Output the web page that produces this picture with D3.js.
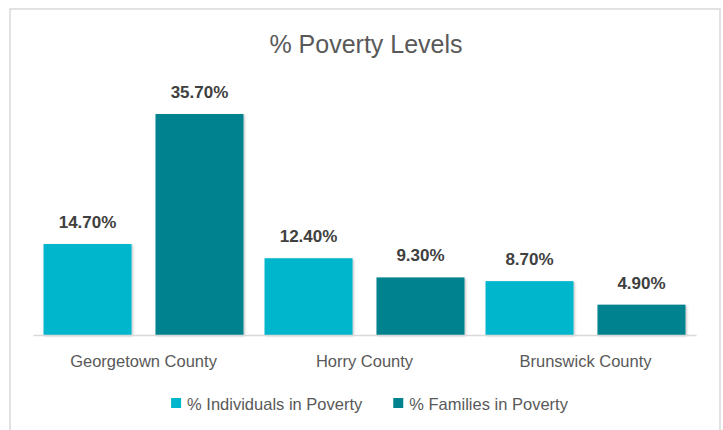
<!DOCTYPE html>
<html>
<head>
<meta charset="utf-8">
<script src="https://cdn.jsdelivr.net/npm/d3@7"></script>
<style>
  html, body { margin: 0; padding: 0; background: #fff; }
  svg { display: block; font-family: "Liberation Sans", Arial, sans-serif; }
</style>
</head>
<body>
<svg id="chart" width="723" height="430"></svg>
<script>
const title = "% Poverty Levels";
const categories = ["Georgetown County", "Horry County", "Brunswick County"];
const seriesNames = ["% Individuals in Poverty", "% Families in Poverty"];
const individuals = [14.7, 12.4, 8.7];
const families = [35.7, 9.3, 4.9];
const colors = ["#00B6CC", "#00838F"];

const seriesValues = [individuals, families];
const data = categories.map((c, i) => ({
  category: c,
  values: seriesNames.map((s, j) => ({ series: s, idx: j, value: seriesValues[j][i] }))
}));

const svg = d3.select("#chart");

// drop shadow filter
const defs = svg.append("defs");
const f = defs.append("filter").attr("id", "shadow")
  .attr("x", "-10%").attr("y", "-10%").attr("width", "130%").attr("height", "130%");
f.append("feDropShadow").attr("dx", 1.2).attr("dy", 1).attr("stdDeviation", 1.2)
  .attr("flood-color", "#000").attr("flood-opacity", 0.25);

// chart border
svg.append("rect")
  .attr("x", 10).attr("y", 9).attr("width", 710).attr("height", 440)
  .attr("fill", "#fff").attr("stroke", "#d9d9d9").attr("stroke-width", 1.5);

// title
svg.append("text")
  .attr("x", 366).attr("y", 53)
  .attr("text-anchor", "middle")
  .attr("font-size", 25)
  .attr("fill", "#595959")
  .text(title);

const x0 = d3.scaleBand().domain(categories).range([33, 696]).padding(0);
const x1 = d3.scaleBand().domain(seriesNames).range([0, x0.bandwidth()])
  .paddingInner(0.214).paddingOuter(0.094);
const y = d3.scaleLinear().domain([0, 40]).range([335, 87.4]);

const groups = svg.append("g").selectAll("g")
  .data(data).join("g")
  .attr("transform", d => `translate(${x0(d.category)},0)`);

groups.selectAll("rect")
  .data(d => d.values).join("rect")
  .attr("x", d => x1(d.series))
  .attr("y", d => y(d.value))
  .attr("width", x1.bandwidth())
  .attr("height", d => y(0) - y(d.value))
  .attr("fill", d => colors[d.idx])
  .attr("filter", "url(#shadow)");

groups.selectAll("text.label")
  .data(d => d.values).join("text")
  .attr("class", "label")
  .attr("x", d => x1(d.series) + x1.bandwidth() / 2)
  .attr("y", d => y(d.value) - 16)
  .attr("text-anchor", "middle")
  .attr("font-size", 17)
  .attr("font-weight", "bold")
  .attr("fill", "#404040")
  .text(d => d.value.toFixed(2) + "%");

// x axis
const xAxis = d3.axisBottom(x0).tickSize(0).tickPadding(20);
const ax = svg.append("g").attr("transform", `translate(0,${y(0)})`).call(xAxis);
ax.select(".domain").attr("stroke", "#d9d9d9").attr("stroke-width", 1.5);
ax.selectAll("text")
  .attr("font-size", 16.5)
  .attr("fill", "#595959")
  .attr("font-family", "Liberation Sans, Arial, sans-serif");

// legend
const legend = svg.append("g");
const items = legend.selectAll("g").data(seriesNames).join("g");
items.append("rect")
  .attr("width", 10).attr("height", 10)
  .attr("y", 398)
  .attr("fill", (d, i) => colors[i]);
items.append("text")
  .attr("x", 16).attr("y", 410)
  .attr("font-size", 16.5)
  .attr("fill", "#595959")
  .text(d => d);
// layout legend items centered
const widths = [];
items.each(function() { widths.push(this.querySelector("text").getComputedTextLength() + 16); });
const gap = 31;
const total = d3.sum(widths) + gap * (widths.length - 1);
let cx = 369.5 - total / 2;
items.attr("transform", (d, i) => {
  const t = `translate(${cx},0)`;
  cx += widths[i] + gap;
  return t;
});
</script>
</body>
</html>
